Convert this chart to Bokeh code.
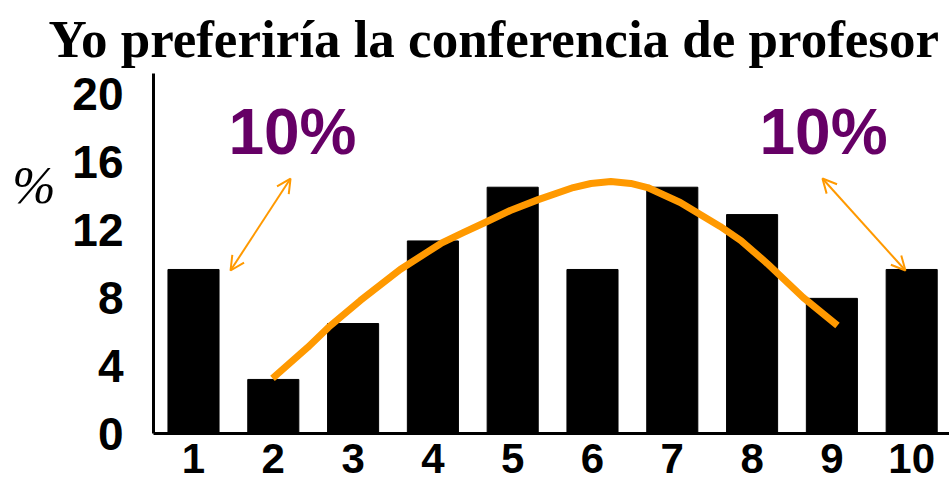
from bokeh.plotting import figure
from bokeh.models import FixedTicker, Label, Arrow, OpenHead, Range1d, LinearAxis
from bokeh.embed import file_html
from bokeh.resources import INLINE

# ---- data ----
categories = [1, 2, 3, 4, 5, 6, 7, 8, 9, 10]
percent = [9.65, 3.18, 6.47, 11.33, 14.49, 9.65, 14.49, 12.88, 7.95, 9.65]
y_ticks = [0, 4, 8, 12, 16, 20]

# orange trend curve
curve_x = [1.99, 2.43, 2.69, 3.09, 3.59, 4.10, 4.38, 4.68, 4.97, 5.32, 5.76, 5.98,
           6.23, 6.48, 6.69, 7.10, 7.60, 7.86, 8.19, 8.64, 9.07]
curve_y = [3.24, 5.06, 6.24, 7.82, 9.65, 11.18, 11.82, 12.47, 13.12, 13.76, 14.47, 14.71,
           14.82, 14.71, 14.47, 13.59, 12.18, 11.35, 10.00, 8.00, 6.35]

title_text = "Yo preferiría la conferencia de profesor"
unit_text = "%"
note_text = "10%"

ORANGE = "#FF9900"
PURPLE = "#660066"

p = figure(width=949, height=485, output_backend="svg", toolbar_location=None,
           x_range=Range1d(0.4987, 10.474), y_range=Range1d(0, 21.18),
           min_border_left=153, min_border_right=0, min_border_top=73, min_border_bottom=52)
p.outline_line_color = None
p.xgrid.grid_line_color = None
p.ygrid.grid_line_color = None
p.background_fill_color = "white"
p.border_fill_color = "white"

p.title.text = title_text
p.title.text_font = "Liberation Serif"
p.title.text_font_style = "bold"
p.title.text_font_size = "53px"
p.title.text_color = "black"
p.title.align = "left"
p.title.vertical_align = "top"
p.title.offset = -105
p.title.standoff = 8

p.vbar(x=categories, top=percent, width=0.64, color="black")
p.line(curve_x, curve_y, line_color=ORANGE, line_width=7, line_join="round")

for ax in (p.xaxis[0], p.yaxis[0]):
    ax.axis_line_width = 3
    ax.axis_line_color = "black"
    ax.major_tick_line_color = None
    ax.minor_tick_line_color = None
    ax.major_label_text_font = "Liberation Sans"
    ax.major_label_text_font_style = "bold"
    ax.major_label_text_color = "black"

p.xaxis.ticker = FixedTicker(ticks=categories)
p.xaxis.major_label_text_font_size = "42px"
p.xaxis.major_label_standoff = 4
p.yaxis.ticker = FixedTicker(ticks=y_ticks)
p.yaxis.major_label_text_font_size = "46px"
p.yaxis.major_label_standoff = 24

# unit mark "%" at the left, as a second left axis with a single labelled tick
unit_pos = 14.59
unit_axis = LinearAxis(ticker=FixedTicker(ticks=[unit_pos]), major_label_overrides={unit_pos: unit_text},
                       axis_line_color=None, major_tick_line_color=None, minor_tick_line_color=None,
                       major_label_text_font="Liberation Serif", major_label_text_font_style="italic",
                       major_label_text_font_size="52px", major_label_text_color="black",
                       major_label_standoff=8)
p.add_layout(unit_axis, "left")

# double-headed arrows
for xs, ys, xe, ye in [(1.464, 9.59, 2.216, 15.0), (8.882, 15.0, 9.922, 9.59)]:
    p.add_layout(Arrow(start=OpenHead(size=14, line_color=ORANGE, line_width=2),
                       end=OpenHead(size=14, line_color=ORANGE, line_width=2),
                       x_start=xs, y_start=ys, x_end=xe, y_end=ye,
                       line_color=ORANGE, line_width=2))

for xc in (2.24, 8.895):
    p.add_layout(Label(x=xc, y=17.76, text=note_text, text_align="center", text_baseline="middle",
                       text_font="Liberation Sans", text_font_style="bold",
                       text_font_size="64px", text_color=PURPLE))

open("out.html", "w").write(file_html(p, INLINE))
